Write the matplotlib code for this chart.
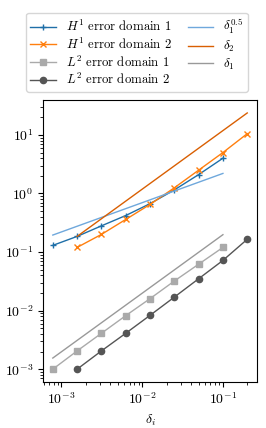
import matplotlib
matplotlib.use("Agg")
import matplotlib.pyplot as plt
import numpy as np

plt.rcParams['font.family'] = 'serif'
plt.rcParams['font.serif'] = ['cmr10']
plt.rcParams['mathtext.fontset'] = 'cm'
plt.rcParams['axes.formatter.use_mathtext'] = True
plt.rcParams['font.size'] = 10

# mesh sizes
d1 = np.array([7.8125e-4, 1.5625e-3, 3.125e-3, 6.25e-3, 0.0125, 0.025, 0.05, 0.1])
d2 = np.array([1.5625e-3, 3.125e-3, 6.25e-3, 0.0125, 0.025, 0.05, 0.1, 0.2])

# errors
h1_dom1 = np.array([0.13, 0.185, 0.28, 0.42, 0.67, 1.15, 2.1, 4.0])
h1_dom2 = np.array([0.12, 0.20, 0.36, 0.65, 1.25, 2.5, 5.0, 10.5])
l2_dom1 = np.array([1.0e-3, 2.05e-3, 4.1e-3, 8.2e-3, 0.016, 0.032, 0.062, 0.12])
l2_dom2 = np.array([1.0e-3, 2.05e-3, 4.1e-3, 8.3e-3, 0.017, 0.035, 0.072, 0.165])

# reference slopes (end points)
ref_half_x = [7.8125e-4, 0.1]
ref_half_y = [0.195, 2.2]
ref_d2_x = [1.5625e-3, 0.2]
ref_d2_y = [0.185, 23.7]
ref_d1_x = [7.8125e-4, 0.1]
ref_d1_y = [1.55e-3, 0.198]

fig = plt.figure(figsize=(2.66, 4.28), dpi=100)
ax = fig.add_axes([0.162, 0.1075, 0.804, 0.6585])

lw = 1.0
ax.loglog(d1, h1_dom1, '-+', color='#1f6fa8', lw=lw, ms=5, mew=1.0, label=r'$H^1$ error domain 1')
ax.loglog(d2, h1_dom2, '-x', color='#ff7f0e', lw=lw, ms=4.5, mew=1.0, label=r'$H^1$ error domain 2')
ax.loglog(d1, l2_dom1, '-s', color='#aaaaaa', lw=lw, ms=4.5, label=r'$L^2$ error domain 1')
ax.loglog(d2, l2_dom2, '-o', color='#555555', lw=lw, ms=4.5, label=r'$L^2$ error domain 2')
ax.loglog(ref_half_x, ref_half_y, '-', color='#6fa8dc', lw=lw, label=r'$\delta_1^{0.5}$')
ax.loglog(ref_d2_x, ref_d2_y, '-', color='#d95f02', lw=lw, label=r'$\delta_2$')
ax.loglog(ref_d1_x, ref_d1_y, '-', color='#999999', lw=lw, label=r'$\delta_1$')

ax.set_xlabel(r'$\delta_i$')

handles, labels = ax.get_legend_handles_labels()
fig.legend(handles, labels, loc='upper center', bbox_to_anchor=(0.515, 0.985), ncol=2,
           fontsize=9.2, columnspacing=1.2, handletextpad=0.8, borderpad=0.35, labelspacing=0.2)

fig.savefig('out.png', dpi=100)
